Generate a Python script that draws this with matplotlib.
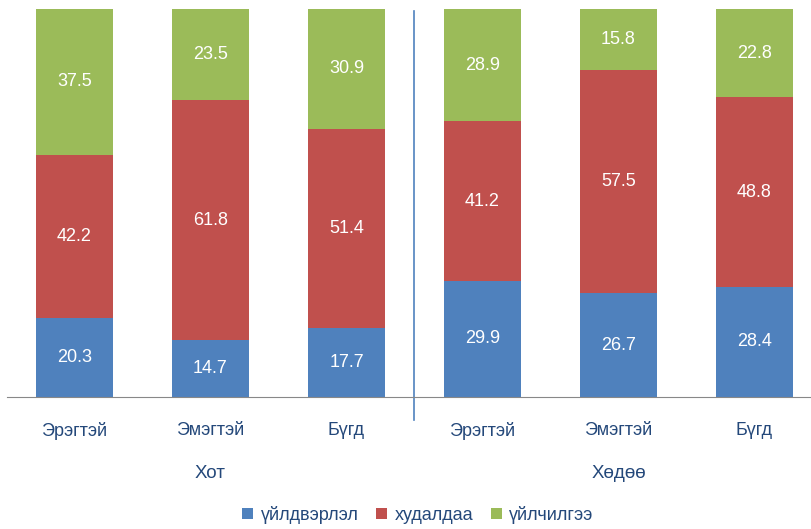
import matplotlib.pyplot as plt
import numpy as np

plt.rcParams['font.family'] = ['Liberation Sans', 'DejaVu Sans']

categories = ['Эрэгтэй', 'Эмэгтэй', 'Бүгд', 'Эрэгтэй', 'Эмэгтэй', 'Бүгд']
groups = ['Хот', 'Хөдөө']
production = [20.3, 14.7, 17.7, 29.9, 26.7, 28.4]
trade = [42.2, 61.8, 51.4, 41.2, 57.5, 48.8]
services = [37.5, 23.5, 30.9, 28.9, 15.8, 22.8]
series_names = ['үйлдвэрлэл', 'худалдаа', 'үйлчилгээ']
colors = ['#4F81BD', '#C0504D', '#9BBB59']
text_col = '#24487A'

W, H = 812, 529
fig = plt.figure(figsize=(W / 100, H / 100), dpi=100)
ax = fig.add_axes([6.5 / W, (H - 397) / H, 816 / W, 388 / H])

x = np.arange(len(categories))
bottom = np.zeros(len(categories))
for vals, name, c in zip([production, trade, services], series_names, colors):
    vals = np.array(vals)
    ax.bar(x, vals, 0.57, bottom=bottom, color=c, label=name)
    for xi, b, v in zip(x, bottom, vals):
        ax.text(xi, b + v / 2, f'{v:.1f}', ha='center', va='center',
                color='white', fontsize=13)
    bottom += vals

ax.set_xlim(-0.5, 5.5)
ax.set_ylim(0, 100)
for s in ['top', 'right', 'left']:
    ax.spines[s].set_visible(False)
ax.spines['bottom'].set_color('#888888')
ax.set_yticks([])
ax.set_xticks(x)
ax.set_xticklabels(categories, fontsize=13, color=text_col)
ax.tick_params(axis='x', length=0, pad=18)

# group labels
for i, g in enumerate(groups):
    ax.text(1 + 3 * i, -19.8, g, ha='center', va='center', fontsize=13.5,
            color=text_col, clip_on=False)

# divider between groups
ax.plot([2.5, 2.5], [99.5, -6], color='#4F81BD', lw=1.2, clip_on=False)

leg = fig.legend(loc='center', bbox_to_anchor=(418 / W, 1 - 515 / H), ncol=3,
                 frameon=False, fontsize=13, handlelength=0.6, handleheight=0.6,
                 handletextpad=0.4, columnspacing=1.0)
for t in leg.get_texts():
    t.set_color(text_col)

fig.savefig('out.png', dpi=100)
